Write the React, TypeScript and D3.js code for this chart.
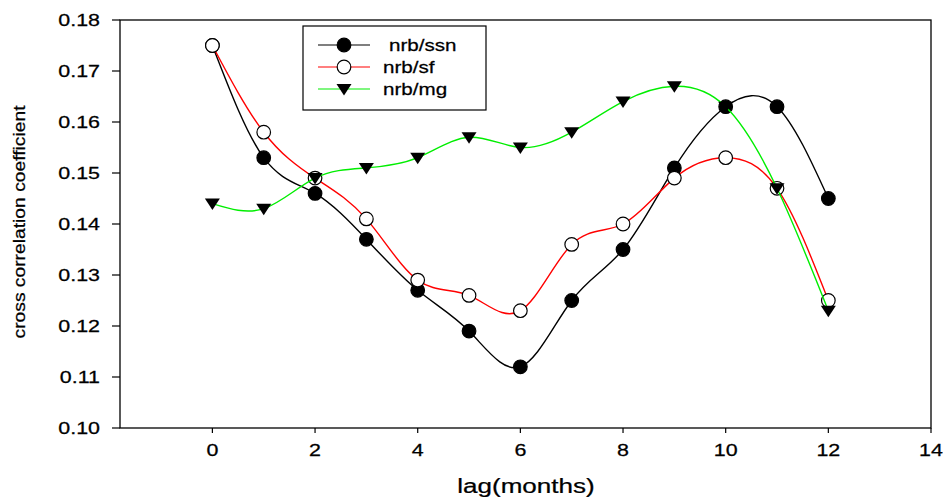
import React, { useEffect, useRef } from 'react';
import * as d3 from 'd3';

const lags = [0, 1, 2, 3, 4, 5, 6, 7, 8, 9, 10, 11, 12];
const nrbSsn = [0.175, 0.153, 0.146, 0.137, 0.127, 0.119, 0.112, 0.125, 0.135, 0.151, 0.163, 0.163, 0.145];
const nrbSf = [0.175, 0.158, 0.149, 0.141, 0.129, 0.126, 0.123, 0.136, 0.14, 0.149, 0.153, 0.147, 0.125];
const nrbMg = [0.144, 0.143, 0.149, 0.151, 0.153, 0.157, 0.155, 0.158, 0.164, 0.167, 0.163, 0.147, 0.123];
const xTicks = [0, 2, 4, 6, 8, 10, 12, 14];
const yTicks = [0.1, 0.11, 0.12, 0.13, 0.14, 0.15, 0.16, 0.17, 0.18];

type Marker = 'filled' | 'open' | 'triangle';

const seriesList: { name: string; values: number[]; color: string; marker: Marker }[] = [
  { name: 'nrb/ssn', values: nrbSsn, color: '#000000', marker: 'filled' },
  { name: 'nrb/sf', values: nrbSf, color: '#ff0000', marker: 'open' },
  { name: 'nrb/mg', values: nrbMg, color: '#00ee00', marker: 'triangle' },
];

const W = 943;
const H = 497;
const FONT = 'Liberation Sans, Arial, sans-serif';
const STRETCH = 1.3; // text in the source is stretched horizontally

const App: React.FC = () => {
  const svgRef = useRef<SVGSVGElement>(null);

  useEffect(() => {
    if (!svgRef.current) return;
    const root = d3.select(svgRef.current);
    root.selectAll('*').remove();

    const left = 120;
    const right = 931;
    const top = 20;
    const bottom = 428;

    const x = d3.scaleLinear().domain([-1.8, 14]).range([left, right]);
    const y = d3.scaleLinear().domain([0.1, 0.18]).range([bottom, top]);

    // stretched text helper
    const label = (
      parent: d3.Selection<any, unknown, null, undefined>,
      tx: number,
      ty: number,
      text: string,
      anchor: string,
      size: number,
      sx = STRETCH
    ) => {
      parent
        .append('g')
        .attr('transform', `translate(${tx},${ty}) scale(${sx},1)`)
        .append('text')
        .attr('text-anchor', anchor)
        .style('font-family', FONT)
        .style('font-size', `${size}px`)
        .attr('fill', '#000')
        .attr('stroke', '#000')
        .attr('stroke-width', 0.25)
        .text(text);
    };

    // frame
    root
      .append('rect')
      .attr('x', left)
      .attr('y', top)
      .attr('width', right - left)
      .attr('height', bottom - top)
      .attr('fill', 'none')
      .attr('stroke', '#000')
      .attr('stroke-width', 1.3);

    // y ticks
    yTicks.forEach(t => {
      root
        .append('line')
        .attr('x1', left - 8)
        .attr('x2', left)
        .attr('y1', y(t))
        .attr('y2', y(t))
        .attr('stroke', '#000')
        .attr('stroke-width', 1.2);
      label(root, left - 20, y(t) + 6, t.toFixed(2), 'end', 16.5);
    });

    // x ticks
    xTicks.forEach(t => {
      root
        .append('line')
        .attr('x1', x(t))
        .attr('x2', x(t))
        .attr('y1', bottom)
        .attr('y2', bottom + 5)
        .attr('stroke', '#000')
        .attr('stroke-width', 1.2);
      label(root, x(t), bottom + 28, String(t), 'middle', 16.5);
    });

    // axis titles
    label(root, 526, 493, 'lag(months)', 'middle', 21, 1.24);
    root
      .append('text')
      .attr('transform', `translate(25,222) rotate(-90)`)
      .attr('text-anchor', 'middle')
      .attr('textLength', 233)
      .attr('lengthAdjust', 'spacingAndGlyphs')
      .style('font-family', FONT)
      .style('font-size', '17px')
      .attr('stroke', '#000')
      .attr('stroke-width', 0.25)
      .text('cross correlation coefficient');

    const line = d3
      .line<number>()
      .x((_, i) => x(lags[i]))
      .y(d => y(d))
      .curve(d3.curveNatural);

    const drawMarker = (
      g: d3.Selection<any, unknown, null, undefined>,
      cx: number,
      cy: number,
      marker: Marker
    ) => {
      if (marker === 'triangle') {
        g.append('path')
          .attr('d', `M${cx - 7.5},${cy - 5}L${cx + 7.5},${cy - 5}L${cx},${cy + 6.5}Z`)
          .attr('fill', '#000');
      } else {
        g.append('circle')
          .attr('cx', cx)
          .attr('cy', cy)
          .attr('r', 6.8)
          .attr('fill', marker === 'filled' ? '#000' : '#fff')
          .attr('stroke', '#000')
          .attr('stroke-width', 1.2);
      }
    };

    const plot = root.append('g');
    seriesList.forEach(s => {
      plot
        .append('path')
        .attr('d', line(s.values))
        .attr('fill', 'none')
        .attr('stroke', s.color)
        .attr('stroke-width', 1.4);
      s.values.forEach((v, i) => drawMarker(plot, x(lags[i]), y(v), s.marker));
    });

    // legend
    const legend = root.append('g');
    legend
      .append('rect')
      .attr('x', 303)
      .attr('y', 26)
      .attr('width', 183)
      .attr('height', 84)
      .attr('fill', '#fff')
      .attr('stroke', '#000')
      .attr('stroke-width', 1.2);
    const rowY = [45, 67, 89];
    seriesList.forEach((s, i) => {
      legend
        .append('line')
        .attr('x1', 318)
        .attr('x2', 370)
        .attr('y1', rowY[i])
        .attr('y2', rowY[i])
        .attr('stroke', s.color)
        .attr('stroke-width', 1.2);
      drawMarker(legend, 344, rowY[i], s.marker);
      label(legend, i === 0 ? 389 : 383, rowY[i] + 6, s.name, 'start', 16.5, 1.25);
    });
  }, []);

  return (
    <svg
      ref={svgRef}
      width={W}
      height={H}
      style={{ position: 'absolute', left: 0, top: 0, background: '#fff', display: 'block' }}
    />
  );
};

export default App;
